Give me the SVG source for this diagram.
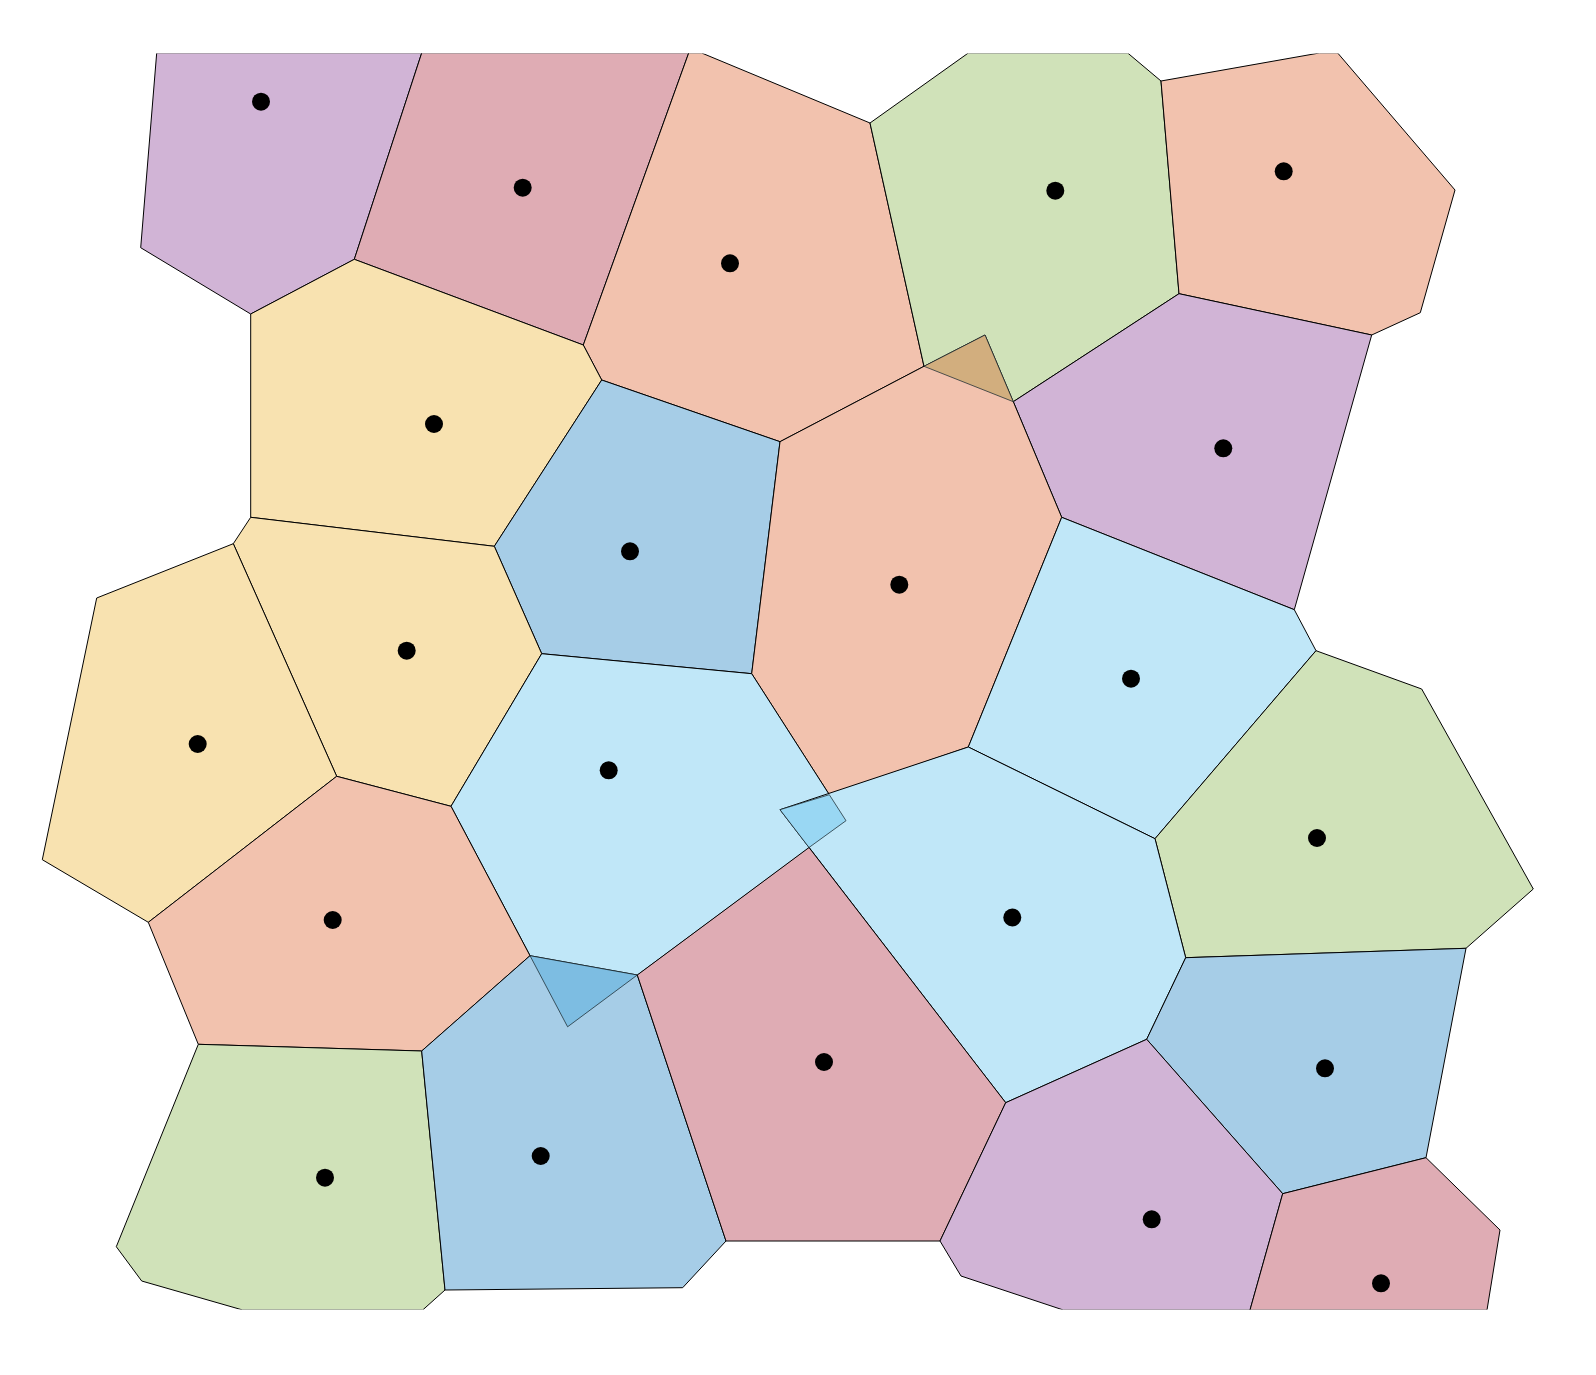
<svg xmlns="http://www.w3.org/2000/svg" width="1596" height="1375" viewBox="0 0 1596 1375">
<defs>
<clipPath id="clip"><rect x="0" y="53.6" width="1596" height="1255.8"/></clipPath>
<style>
.cell{stroke:#000;stroke-width:1;stroke-linejoin:miter}
.ov{stroke:#1a2a30;stroke-opacity:0.75;stroke-width:1}
.purple{fill:#d1b4d6}
.maroon{fill:#dfacb4}
.peach{fill:#f2c2ae}
.green{fill:#d0e2b9}
.yellow{fill:#f8e2b0}
.blue{fill:#a6cde7}
.lblue{fill:#c0e7f8}
.dot{fill:#000}
</style>
</defs>
<rect width="1596" height="1375" fill="#fff"/>
<g id="cells" clip-path="url(#clip)">
<g id="cell-01"><polygon class="cell purple" points="156.7,53 140.7,247.7 250.7,314 354.3,259.3 421.7,53"/></g>
<g id="cell-02"><polygon class="cell maroon" points="421.7,53 354.3,259.3 583.3,345 688.7,53"/></g>
<g id="cell-03"><polygon class="cell peach" points="688.7,53 583.3,345 601.7,380 780,441.7 924,366.3 870,123 701.7,53"/></g>
<g id="cell-04"><polygon class="cell green" points="870,123 968.3,53 1127.7,53 1161,81 1179,293.7 1013.3,401.7 924,366.3"/></g>
<g id="cell-05"><polygon class="cell peach" points="1161,81 1319.3,53 1337.7,53 1455,190 1420.3,312.7 1371.7,335 1179,293.7"/></g>
<g id="cell-06"><polygon class="cell purple" points="1013.3,401.7 1179,293.7 1371.7,335 1294.3,609.7 1061.7,517.3"/></g>
<g id="cell-07"><polygon class="cell yellow" points="250.7,314 354.3,259.3 583.3,345 601.7,380 494.3,546.3 250.7,517.3"/></g>
<g id="cell-08"><polygon class="cell blue" points="601.7,380 780,441.7 751.7,673.7 541.7,653.7 494.3,546.3"/></g>
<g id="cell-09"><polygon class="cell peach" points="780,441.7 924,366.3 985,335 1013.3,401.7 1061.7,517.3 968.3,747 829.3,794.7 751.7,673.7"/></g>
<g id="cell-10"><polygon class="cell lblue" points="1061.7,517.3 1294.3,609.7 1316,650.7 1155,838.7 968.3,747"/></g>
<g id="cell-11"><polygon class="cell yellow" points="233.3,543.7 250.7,517.3 494.3,546.3 541.7,653.7 451,806.3 336.7,776.3"/></g>
<g id="cell-12"><polygon class="cell yellow" points="96.7,598 233.3,543.7 336.7,776.3 148.3,922.3 42.3,859.7"/></g>
<g id="cell-13"><polygon class="cell lblue" points="541.7,653.7 751.7,673.7 846,820.7 567.6,1026.8 451,806.3"/></g>
<g id="cell-14"><polygon class="cell green" points="1316,650.7 1421.7,689 1533.3,889 1466,948.3 1185.7,957.7 1155,838.7"/></g>
<g id="cell-15"><polygon class="cell peach" points="148.3,922.3 336.7,776.3 451,806.3 530,955.7 421.7,1051 198.3,1044.3"/></g>
<g id="cell-16"><polygon class="cell lblue" points="780,809.7 968.3,747 1155,838.7 1185.7,957.7 1146.7,1039.3 1005.7,1102.7"/></g>
<g id="cell-17"><polygon class="cell green" points="198.3,1044.3 421.7,1051 445,1290 422.7,1310 242.7,1310 141.7,1281 116.3,1246.7"/></g>
<g id="cell-18"><polygon class="cell blue" points="530,955.7 637.3,975 726,1241 682.7,1287.7 445,1290 421.7,1051"/></g>
<g id="cell-19"><polygon class="cell maroon" points="809,847.5 1005.7,1102.7 940,1241 726,1241 637.3,975"/></g>
<g id="cell-20"><polygon class="cell blue" points="1185.7,957.7 1466,948.3 1426,1157.7 1282.7,1193.7 1146.7,1039.3"/></g>
<g id="cell-21"><polygon class="cell purple" points="1005.7,1102.7 1146.7,1039.3 1282.7,1193.7 1250,1310 1063.3,1310 961,1276 940,1241"/></g>
<g id="cell-22"><polygon class="cell maroon" points="1282.7,1193.7 1426,1157.7 1500,1230 1487,1310 1250,1310"/></g>
</g>
<g id="overlaps">
<polygon class="ov" fill="#d2ae7e" points="924,366.3 985,335 1013.3,401.7"/>
<polygon class="ov" fill="#99d7f3" points="780,809.7 829.3,794.7 846,820.7 809,847.5"/>
<polygon class="ov" fill="#7dbde2" points="530,955.7 637.3,975 567.6,1026.8"/>
</g>
<g id="sites">
<circle class="dot" cx="261" cy="101.7" r="9"/>
<circle class="dot" cx="522.7" cy="187.7" r="9"/>
<circle class="dot" cx="730" cy="263.3" r="9"/>
<circle class="dot" cx="1055.3" cy="190.7" r="9"/>
<circle class="dot" cx="1283.7" cy="171.3" r="9"/>
<circle class="dot" cx="1223.3" cy="448.3" r="9"/>
<circle class="dot" cx="434" cy="424" r="9"/>
<circle class="dot" cx="630" cy="551.3" r="9"/>
<circle class="dot" cx="899.3" cy="584.7" r="9"/>
<circle class="dot" cx="1131" cy="678.7" r="9"/>
<circle class="dot" cx="406.7" cy="650.7" r="9"/>
<circle class="dot" cx="197.7" cy="744" r="9"/>
<circle class="dot" cx="608.7" cy="770.3" r="9"/>
<circle class="dot" cx="1317" cy="838" r="9"/>
<circle class="dot" cx="332.7" cy="920" r="9"/>
<circle class="dot" cx="1012.3" cy="917.5" r="9"/>
<circle class="dot" cx="325" cy="1177.7" r="9"/>
<circle class="dot" cx="540.7" cy="1156" r="9"/>
<circle class="dot" cx="824" cy="1062" r="9"/>
<circle class="dot" cx="1325" cy="1068.3" r="9"/>
<circle class="dot" cx="1151.7" cy="1219.3" r="9"/>
<circle class="dot" cx="1381" cy="1283.3" r="9"/>
</g>
</svg>
